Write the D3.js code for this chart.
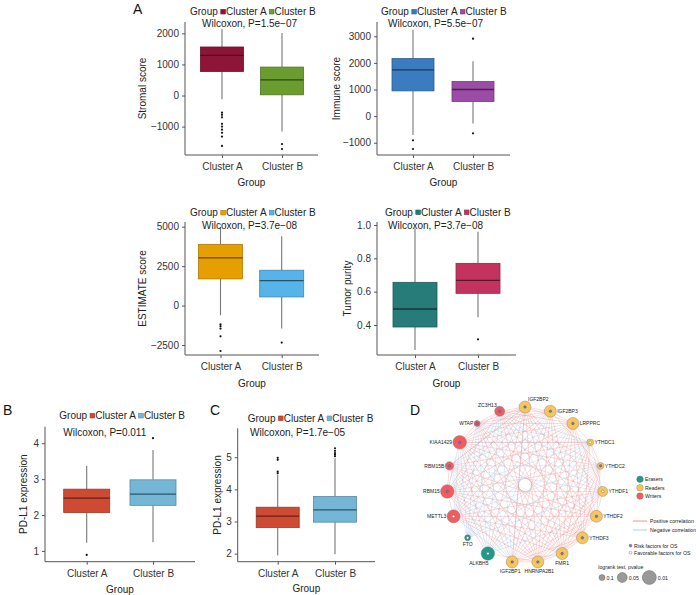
<!DOCTYPE html>
<html><head><meta charset="utf-8">
<script src="https://cdn.jsdelivr.net/npm/d3@7"></script>
<style>body{margin:0;background:#fff} svg{display:block;font-family:"Liberation Sans",Arial,sans-serif}</style>
</head><body><svg id="c" width="696" height="595"></svg>
<script>
// ---------------- DATA ----------------
const groups = ["Cluster A", "Cluster B"];
// box stats: [lower whisker, Q1, median, Q3, upper whisker]
const stromalBox = [[-116, 774, 1290, 1561, 2140], [-1160, 23, 506, 915, 2010]];
const stromalOut = [[-550, -620, -700, -910, -1000, -1100, -1200, -1320, -1620], [-1560, -1720]];
const stromalTicks = [-1000, 0, 1000, 2000];
const stromalP = "Wilcoxon, P=1.5e\u221207";

const immuneBox = [[-712, 948, 1734, 2161, 3248], [-273, 551, 1000, 1300, 2060]];
const immuneOut = [[-911, -1236], [2910, -648]];
const immuneTicks = [-1000, 0, 1000, 2000, 3000];
const immuneP = "Wilcoxon, P=5.5e\u221207";

const estimateBox = [[-615, 1690, 3020, 3870, 4990], [-1460, 546, 1586, 2240, 4400]];
const estimateOut = [[-1185, -1310, -1460, -1950, -2880], [-2350]];
const estimateTicks = [-2500, 0, 2500, 5000];
const estimateP = "Wilcoxon, P=3.7e\u221208";

const purityBox = [[0.25, 0.388, 0.496, 0.656, 0.98], [0.446, 0.59, 0.668, 0.77, 0.96]];
const purityOut = [[], [0.314]];
const purityTicks = [0.4, 0.6, 0.8, 1.0];
const purityP = "Wilcoxon, P=3.7e\u221208";

const pdl1BBox = [[1.23, 2.07, 2.47, 2.72, 3.37], [1.24, 2.27, 2.58, 2.98, 3.81]];
const pdl1BOut = [[0.89], [4.14]];
const pdl1BTicks = [1, 2, 3, 4];
const pdl1BP = "Wilcoxon, P=0.011";

const pdl1CBox = [[1.94, 2.81, 3.17, 3.445, 4.45], [1.98, 2.98, 3.36, 3.78, 4.97]];
const pdl1COut = [[4.98, 4.92, 4.55, 4.5], [5.28, 5.2, 5.13, 5.08, 5.03]];
const pdl1CTicks = [2, 3, 4, 5];
const pdl1CP = "Wilcoxon, P=1.7e\u221205";

// network (panel D), clockwise from top
const nodeNames = ["IGF2BP2","IGF2BP3","LRPPRC","YTHDC1","YTHDC2","YTHDF1","YTHDF2","YTHDF3","FMR1","HNRNPA2B1","IGF2BP1","ALKBH5","FTO","METTL3","RBM15","RBM15B","KIAA1429","WTAP","ZC3H13"];
const nodeTypes = ["Readers","Readers","Readers","Readers","Readers","Readers","Readers","Readers","Readers","Readers","Readers","Erasers","Erasers","Writers","Writers","Writers","Writers","Writers","Writers"];
const nodePvalues = [0.03,0.03,0.03,0.09,0.09,0.05,0.03,0.03,0.03,0.03,0.03,0.015,0.1,0.02,0.015,0.07,0.015,0.1,0.05];
const nodeRisk = [true,true,true,false,true,false,true,true,true,true,true,false,false,false,true,true,true,true,true];
const positiveEdges = [
 ["IGF2BP2","HNRNPA2B1"],["IGF2BP2","FMR1"],["IGF2BP2","YTHDF3"],["IGF2BP2","IGF2BP1"],["IGF2BP2","METTL3"],["IGF2BP2","RBM15"],["IGF2BP2","KIAA1429"],["IGF2BP2","ALKBH5"],["IGF2BP2","YTHDF1"],["IGF2BP2","IGF2BP3"],["IGF2BP2","LRPPRC"],["IGF2BP2","ZC3H13"],["IGF2BP2","WTAP"],["IGF2BP2","YTHDF2"],["IGF2BP2","RBM15B"],
 ["IGF2BP3","HNRNPA2B1"],["IGF2BP3","FMR1"],["IGF2BP3","IGF2BP1"],["IGF2BP3","YTHDF3"],["IGF2BP3","RBM15"],["IGF2BP3","KIAA1429"],["IGF2BP3","METTL3"],["IGF2BP3","YTHDC2"],["IGF2BP3","WTAP"],["IGF2BP3","ZC3H13"],["IGF2BP3","LRPPRC"],
 ["LRPPRC","HNRNPA2B1"],["LRPPRC","FMR1"],["LRPPRC","YTHDF3"],["LRPPRC","YTHDF2"],["LRPPRC","KIAA1429"],["LRPPRC","RBM15"],["LRPPRC","IGF2BP1"],["LRPPRC","ALKBH5"],["LRPPRC","METTL3"],["LRPPRC","ZC3H13"],["LRPPRC","WTAP"],["LRPPRC","YTHDC1"],["LRPPRC","YTHDF1"],
 ["YTHDC1","FMR1"],["YTHDC1","HNRNPA2B1"],["YTHDC1","YTHDF3"],["YTHDC1","KIAA1429"],["YTHDC1","RBM15B"],["YTHDC1","YTHDC2"],
 ["YTHDC2","FMR1"],["YTHDC2","HNRNPA2B1"],["YTHDC2","YTHDF3"],["YTHDC2","KIAA1429"],["YTHDC2","ZC3H13"],["YTHDC2","RBM15"],["YTHDC2","YTHDF2"],["YTHDC2","IGF2BP1"],
 ["YTHDF1","HNRNPA2B1"],["YTHDF1","FMR1"],["YTHDF1","METTL3"],["YTHDF1","IGF2BP1"],["YTHDF1","YTHDF2"],["YTHDF1","KIAA1429"],["YTHDF1","RBM15"],
 ["YTHDF2","HNRNPA2B1"],["YTHDF2","FMR1"],["YTHDF2","KIAA1429"],["YTHDF2","RBM15"],["YTHDF2","METTL3"],["YTHDF2","ZC3H13"],["YTHDF2","WTAP"],["YTHDF2","IGF2BP1"],["YTHDF2","RBM15B"],
 ["YTHDF3","HNRNPA2B1"],["YTHDF3","FMR1"],["YTHDF3","KIAA1429"],["YTHDF3","RBM15"],["YTHDF3","ZC3H13"],["YTHDF3","WTAP"],["YTHDF3","METTL3"],["YTHDF3","RBM15B"],["YTHDF3","IGF2BP1"],
 ["FMR1","HNRNPA2B1"],["FMR1","KIAA1429"],["FMR1","RBM15"],["FMR1","RBM15B"],["FMR1","ZC3H13"],["FMR1","WTAP"],["FMR1","METTL3"],["FMR1","IGF2BP1"],
 ["HNRNPA2B1","KIAA1429"],["HNRNPA2B1","RBM15"],["HNRNPA2B1","RBM15B"],["HNRNPA2B1","ZC3H13"],["HNRNPA2B1","WTAP"],["HNRNPA2B1","METTL3"],["HNRNPA2B1","ALKBH5"],["HNRNPA2B1","IGF2BP1"],
 ["IGF2BP1","KIAA1429"],["IGF2BP1","RBM15"],["KIAA1429","ZC3H13"],["KIAA1429","WTAP"],["KIAA1429","RBM15"],["RBM15","ZC3H13"],["RBM15","METTL3"],["ALKBH5","KIAA1429"],["ALKBH5","RBM15"],["ZC3H13","WTAP"],["RBM15","RBM15B"]
];
const negativeEdges = [
 ["FTO","IGF2BP2"],["FTO","IGF2BP3"],["FTO","LRPPRC"],["FTO","YTHDC1"],["FTO","YTHDC2"],["FTO","YTHDF1"],["FTO","ZC3H13"],["FTO","WTAP"],["FTO","KIAA1429"],["FTO","RBM15B"],
 ["ALKBH5","IGF2BP3"],["ALKBH5","YTHDC2"],["ALKBH5","YTHDC1"],["ALKBH5","ZC3H13"],["ALKBH5","WTAP"],["ALKBH5","RBM15B"],["ALKBH5","YTHDF2"],["ALKBH5","YTHDF1"],
 ["RBM15B","IGF2BP1"],["RBM15B","IGF2BP2"],["RBM15B","LRPPRC"],["RBM15B","YTHDF1"],["RBM15B","IGF2BP3"],["RBM15B","YTHDC2"],
 ["METTL3","YTHDC1"],["METTL3","YTHDC2"],["METTL3","WTAP"],["METTL3","ZC3H13"],["METTL3","KIAA1429"],["METTL3","IGF2BP1"],
 ["YTHDF1","ZC3H13"],["YTHDF1","WTAP"],["YTHDF1","YTHDC1"],
 ["IGF2BP1","YTHDC1"],["IGF2BP1","WTAP"],["IGF2BP1","ZC3H13"],["IGF2BP1","IGF2BP2"],
 ["WTAP","YTHDC1"],["WTAP","YTHDC2"],["KIAA1429","YTHDC1"],["RBM15","YTHDC1"],["ZC3H13","YTHDC1"]
];
const typeOrder = ["Erasers", "Readers", "Writers"];
const pLegend = [0.1, 0.05, 0.01];

// ---------------- STYLE / LAYOUT ----------------
const svg = d3.select("#c");
const TXT = "#222", AX = "#555";

function boxPanel(cfg, boxes, outs, ticks, pText, colors) {
  const g = svg.append("g");
  const y = d3.scaleLinear().domain(cfg.domain).range([cfg.bottom, cfg.top]);
  const x = d3.scalePoint().domain(groups).range([cfg.cA, cfg.cB]);
  const bw = cfg.bw;
  const yAx = g.append("g").attr("transform", `translate(${cfg.axisX},0)`)
    .call(d3.axisLeft(y).tickValues(ticks).tickSize(3).tickPadding(3).tickFormat(cfg.fmt || (d => String(d).replace("-", "\u2212"))));
  yAx.select(".domain").attr("d", `M0,${cfg.top}V${cfg.bottom}`);
  const xAx = g.append("g").attr("transform", `translate(0,${cfg.bottom})`)
    .call(d3.axisBottom(x).tickSize(3).tickPadding(5));
  xAx.select(".domain").attr("d", `M${cfg.axisX},0H${cfg.axisR}`);
  g.selectAll(".domain,.tick line").attr("stroke", AX).attr("stroke-width", 1);
  g.selectAll(".tick text").attr("fill", "#333").attr("font-size", 10).attr("font-family", "Liberation Sans, Arial, sans-serif");
  groups.forEach((grp, i) => {
    const s = boxes[i], cx = x(grp), col = colors[i];
    g.append("line").attr("x1", cx).attr("x2", cx).attr("y1", y(s[4])).attr("y2", y(s[3])).attr("stroke", "#777").attr("stroke-width", 1.1);
    g.append("line").attr("x1", cx).attr("x2", cx).attr("y1", y(s[1])).attr("y2", y(s[0])).attr("stroke", "#777").attr("stroke-width", 1.1);
    g.append("rect").attr("x", cx - bw / 2).attr("width", bw).attr("y", y(s[3])).attr("height", y(s[1]) - y(s[3]))
      .attr("fill", col).attr("stroke", d3.color(col).darker(0.8)).attr("stroke-width", 0.8);
    g.append("line").attr("x1", cx - bw / 2).attr("x2", cx + bw / 2).attr("y1", y(s[2])).attr("y2", y(s[2]))
      .attr("stroke", d3.color(col).darker(2.2)).attr("stroke-width", 1.3);
    g.selectAll(null).data(outs[i]).join("circle").attr("cx", cx).attr("cy", d => y(d)).attr("r", 1.1).attr("fill", "#111");
  });
  g.append("text").attr("x", (cfg.axisX + cfg.axisR) / 2).attr("y", cfg.xtY).attr("dy", "0.35em").attr("text-anchor", "middle")
    .attr("font-size", 10).attr("fill", TXT).text("Group");
  g.append("text").attr("transform", `translate(${cfg.ytX},${(cfg.top + cfg.bottom) / 2}) rotate(-90)`).attr("dy", "0.35em")
    .attr("text-anchor", "middle").attr("font-size", 10).attr("fill", TXT).text(cfg.yTitle);
  g.append("text").attr("x", cfg.pX).attr("y", cfg.pY).attr("dy", "0.35em").attr("font-size", 10).attr("fill", TXT).text(pText);
  let lx = cfg.legX;
  const t0 = g.append("text").attr("x", lx).attr("y", cfg.legY).attr("dy", "0.35em").attr("font-size", 10).attr("fill", TXT).text("Group");
  lx += t0.node().getComputedTextLength() + 3;
  groups.forEach((grp, i) => {
    g.append("rect").attr("x", lx).attr("y", cfg.legY - 2.3).attr("width", 4.6).attr("height", 4.6)
      .attr("fill", colors[i]).attr("stroke", d3.color(colors[i]).darker(0.8)).attr("stroke-width", 0.6);
    lx += 5.2;
    const t = g.append("text").attr("x", lx).attr("y", cfg.legY).attr("dy", "0.35em").attr("font-size", 10).attr("fill", TXT).text(grp);
    lx += t.node().getComputedTextLength() + 2.8;
  });
}

boxPanel({axisX: 185, axisR: 318, top: 22, bottom: 155, domain: [-1913, 2365], cA: 222, cB: 282, bw: 43,
  xtY: 182, ytX: 142, yTitle: "Stromal score", pX: 202, pY: 23, legX: 190, legY: 11.7}, stromalBox, stromalOut, stromalTicks, stromalP, ["#8E1538", "#6A9C30"]);
boxPanel({axisX: 377, axisR: 510, top: 22, bottom: 155, domain: [-1461, 3536], cA: 413, cB: 473, bw: 42,
  xtY: 182, ytX: 336, yTitle: "Immune score", pX: 388, pY: 23, legX: 381, legY: 11.7}, immuneBox, immuneOut, immuneTicks, immuneP, ["#3A7CBF", "#9B4DA5"]);
boxPanel({axisX: 185, axisR: 319, top: 222, bottom: 355, domain: [-3135, 5298], cA: 220.5, cB: 281.7, bw: 44,
  xtY: 383.3, ytX: 142, yTitle: "ESTIMATE score", pX: 202, pY: 225, legX: 190, legY: 212.7}, estimateBox, estimateOut, estimateTicks, estimateP, ["#E69F00", "#56B4E9"]);
boxPanel({axisX: 377, axisR: 516, top: 222, bottom: 355, domain: [0.22, 1.018], cA: 415, cB: 478, bw: 44, fmt: d3.format(".1f"),
  xtY: 383.3, ytX: 347, yTitle: "Tumor purity", pX: 388, pY: 225, legX: 385, legY: 212.3}, purityBox, purityOut, purityTicks, purityP, ["#277B78", "#C43360"]);
boxPanel({axisX: 45, axisR: 195, top: 426.7, bottom: 561.7, domain: [0.70, 4.46], cA: 86.7, cB: 153, bw: 46,
  xtY: 589, ytX: 23, yTitle: "PD-L1 expression", pX: 63.3, pY: 432.3, legX: 59.3, legY: 415.7}, pdl1BBox, pdl1BOut, pdl1BTicks, pdl1BP, ["#CF4A33", "#74B6D6"]);
boxPanel({axisX: 237.7, axisR: 375, top: 428.3, bottom: 561.7, domain: [1.75, 5.9], cA: 277.7, cB: 335, bw: 43,
  xtY: 588.3, ytX: 217, yTitle: "PD-L1 expression", pX: 250, pY: 432.3, legX: 247.7, legY: 418.3}, pdl1CBox, pdl1COut, pdl1CTicks, pdl1CP, ["#CF4A33", "#74B6D6"]);

[["A", 133, 9], ["B", 3, 410], ["C", 210, 410], ["D", 410, 410]].forEach(([t, x, yy]) =>
  svg.append("text").attr("x", x).attr("y", yy).attr("dy", "0.35em").attr("font-size", 14).attr("fill", "#111").text(t));

// ---------------- PANEL D ----------------
const typeColor = d3.scaleOrdinal().domain(typeOrder).range(["#1F9A8B", "#F7C65B", "#F25C5E"]);
const rScale = d3.scaleLinear().domain([0.1, 0.05, 0.01]).range([3, 5, 7]).clamp(true);
const cx0 = 525, cy0 = 485, R = 78;
const ang = d3.scaleLinear().domain([0, nodeNames.length]).range([0, 2 * Math.PI]);
const nodes = nodeNames.map((n, i) => ({name: n, type: nodeTypes[i], p: nodePvalues[i], risk: nodeRisk[i],
  x: cx0 + R * Math.sin(ang(i)), y: cy0 - R * Math.cos(ang(i))}));
const byName = Object.fromEntries(nodes.map(n => [n.name, n]));
const gd = svg.append("g");
const edges = negativeEdges.map(e => ({s: e[0], t: e[1], pos: false})).concat(positiveEdges.map(e => ({s: e[0], t: e[1], pos: true})));
gd.selectAll(".e").data(edges).join("line")
  .attr("x1", d => byName[d.s].x).attr("y1", d => byName[d.s].y).attr("x2", d => byName[d.t].x).attr("y2", d => byName[d.t].y)
  .attr("stroke", d => d.pos ? "#EA7B7C" : "#9CC6E6").attr("stroke-opacity", d => d.pos ? 0.5 : 0.6).attr("stroke-width", 0.55);
gd.selectAll(".n").data(nodes).join("circle").attr("cx", d => d.x).attr("cy", d => d.y).attr("r", d => rScale(d.p))
  .attr("fill", d => typeColor(d.type)).attr("stroke", "#777").attr("stroke-width", 0.4);
gd.selectAll(".i").data(nodes).join("circle").attr("cx", d => d.x).attr("cy", d => d.y).attr("r", 1.3)
  .attr("fill", d => d.risk ? "#7C74D8" : "#fff").attr("stroke", "#444").attr("stroke-width", 0.35);
const labelPos = {IGF2BP2: "tr", IGF2BP3: "r", LRPPRC: "r", YTHDC1: "r", YTHDC2: "r", YTHDF1: "r", YTHDF2: "r", YTHDF3: "r",
  FMR1: "b", HNRNPA2B1: "b", IGF2BP1: "b", ALKBH5: "bl", FTO: "b", METTL3: "l", RBM15: "l", RBM15B: "l", KIAA1429: "l", WTAP: "l", ZC3H13: "tl"};
const labelShift = {IGF2BP1: -2, HNRNPA2B1: 1.5};
nodes.forEach(n => {
  const r = rScale(n.p), pos = labelPos[n.name];
  let x = n.x + (labelShift[n.name] || 0), y = n.y, anchor = "middle";
  if (pos === "r") { x += r + 0.8; anchor = "start"; }
  else if (pos === "l") { x -= r + 0.8; anchor = "end"; }
  else if (pos === "b") { y += r + 3.5; }
  else if (pos === "bl") { x -= 9; y += r + 3; }
  else if (pos === "tr") { x += 3; y -= r + 1.5; anchor = "start"; }
  else if (pos === "tl") { x -= 3; y -= r + 0.5; anchor = "end"; }
  gd.append("text").attr("x", x).attr("y", y).attr("dy", "0.35em").attr("text-anchor", anchor)
    .attr("font-size", 5).attr("fill", "#222").text(n.name);
});
typeOrder.forEach((t, i) => {
  const yy = 479.3 + i * 8.4;
  gd.append("circle").attr("cx", 640).attr("cy", yy).attr("r", 3.3).attr("fill", typeColor(t)).attr("stroke", "#777").attr("stroke-width", 0.4);
  gd.append("text").attr("x", 645).attr("y", yy).attr("dy", "0.35em").attr("font-size", 5.2).attr("fill", "#222").text(t);
});
[["Positive correlation", "#EA7B7C", 521], ["Negative correlation", "#9CC6E6", 530]].forEach(([t, c, yy]) => {
  gd.append("line").attr("x1", 633).attr("x2", 647).attr("y1", yy).attr("y2", yy).attr("stroke", c).attr("stroke-width", 0.8);
  gd.append("text").attr("x", 650).attr("y", yy).attr("dy", "0.35em").attr("font-size", 5.2).attr("fill", "#222").text(t);
});
[["Risk factors for OS", "#7C74D8", 545.7], ["Favorable factors for OS", "#fff", 552.7]].forEach(([t, c, yy]) => {
  gd.append("circle").attr("cx", 630.5).attr("cy", yy).attr("r", 1.4).attr("fill", c).attr("stroke", "#444").attr("stroke-width", 0.35);
  gd.append("text").attr("x", 634).attr("y", yy).attr("dy", "0.35em").attr("font-size", 5.2).attr("fill", "#222").text(t);
});
gd.append("text").attr("x", 598.3).attr("y", 566.7).attr("dy", "0.35em").attr("font-size", 5.2).attr("fill", "#222").text("logrank test, pvalue");
let lpx = 599;
pLegend.forEach(p => {
  const r = rScale(p);
  gd.append("circle").attr("cx", lpx + r).attr("cy", 577.5).attr("r", r).attr("fill", "#999").attr("stroke", "#555").attr("stroke-width", 0.4);
  const t = gd.append("text").attr("x", lpx + 2 * r + 1.5).attr("y", 578).attr("dy", "0.35em").attr("font-size", 5.2).attr("fill", "#222").text(String(p));
  lpx += 2 * r + 1.5 + t.node().getComputedTextLength() + 3.5;
});
</script></body></html>
